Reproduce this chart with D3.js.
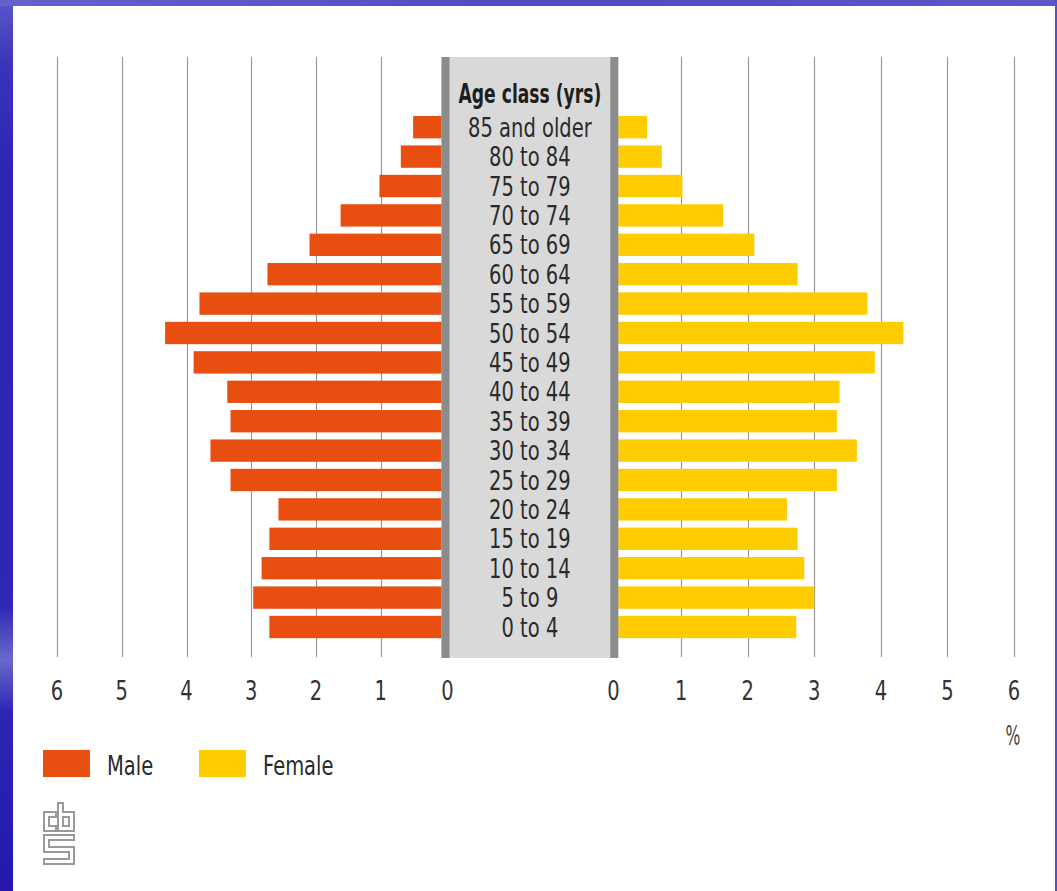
<!DOCTYPE html>
<html><head><meta charset="utf-8">
<script src="https://cdn.jsdelivr.net/npm/d3@7"></script>
<style>
html,body{margin:0;padding:0;}
body{width:1057px;height:891px;overflow:hidden;background:#2c25b3;}
svg{display:block;}
text{font-family:"DejaVu Sans",sans-serif;}
</style></head><body>
<svg id="c" width="1057" height="891"></svg>
<script>
const categories = ["85 and older","80 to 84","75 to 79","70 to 74","65 to 69","60 to 64","55 to 59","50 to 54","45 to 49","40 to 44","35 to 39","30 to 34","25 to 29","20 to 24","15 to 19","10 to 14","5 to 9","0 to 4"];
const male   = [0.50,0.69,1.02,1.62,2.10,2.75,3.80,4.33,3.89,3.37,3.32,3.63,3.32,2.58,2.72,2.84,2.97,2.72];
const female = [0.49,0.71,1.02,1.63,2.10,2.75,3.80,4.34,3.91,3.38,3.34,3.64,3.34,2.59,2.75,2.85,3.00,2.73];
const tickValues = [0,1,2,3,4,5,6];
const tickLabels = ["0","1","2","3","4","5","6"];
const seriesNames = ["Male","Female"];
const headerLabel = "Age class (yrs)";
const unitLabel = "%";

const svg = d3.select("#c");
const MALE = "#e84e0f", FEMALE = "#ffcc00";
const SX = 0.75;

// background gradients
const defs = svg.append("defs");
const gv = defs.append("linearGradient").attr("id","gv").attr("x1",0).attr("y1",0).attr("x2",0).attr("y2",1);
[[0,"#5a58c8"],[0.07,"#3a34bb"],[0.2,"#2c25b3"],[0.68,"#2d27b4"],[0.74,"#6a68cc"],[0.8,"#2c25b3"],[1,"#2418ad"]]
  .forEach(s=>gv.append("stop").attr("offset",s[0]).attr("stop-color",s[1]));
const gh = defs.append("linearGradient").attr("id","gh").attr("x1",0).attr("y1",0).attr("x2",1).attr("y2",0);
[[0,"#6462cc"],[0.5,"#4f4cc4"],[1,"#5a57c8"]].forEach(s=>gh.append("stop").attr("offset",s[0]).attr("stop-color",s[1]));
svg.append("rect").attr("x",0).attr("y",0).attr("width",1057).attr("height",891).attr("fill","url(#gv)");
svg.append("rect").attr("x",0).attr("y",0).attr("width",1057).attr("height",6).attr("fill","url(#gh)");
svg.append("rect").attr("x",1055).attr("y",0).attr("width",2).attr("height",891).attr("fill","#5552c6");

// white panel
svg.append("rect").attr("x",13).attr("y",6).attr("width",1042).attr("height",885).attr("fill","#fff");

const xL = d3.scaleLinear().domain([0,6]).range([445.5,57]);
const xR = d3.scaleLinear().domain([0,6]).range([614.5,1014]);
const y = d3.scaleBand().domain(categories).range([112.5,641.7]).paddingInner(0.24).paddingOuter(0.12);
const gridTop = 57, gridBot = 657;

// gridlines
const gridVals = tickValues.filter(v=>v>0);
svg.append("g").selectAll("line").data(gridVals).join("line")
  .attr("x1",d=>Math.round(xL(d))+0.5).attr("x2",d=>Math.round(xL(d))+0.5)
  .attr("y1",gridTop).attr("y2",gridBot).attr("stroke","#9a9a9a").attr("stroke-width",1.2);
svg.append("g").selectAll("line").data(gridVals).join("line")
  .attr("x1",d=>Math.round(xR(d))+0.5).attr("x2",d=>Math.round(xR(d))+0.5)
  .attr("y1",gridTop).attr("y2",gridBot).attr("stroke","#9a9a9a").attr("stroke-width",1.2);

// bars
svg.append("g").selectAll("rect").data(categories).join("rect")
  .attr("x",(d,i)=>xL(male[i])).attr("width",(d,i)=>xL(0)-xL(male[i]))
  .attr("y",d=>y(d)).attr("height",y.bandwidth()).attr("fill",MALE);
svg.append("g").selectAll("rect").data(categories).join("rect")
  .attr("x",xR(0)).attr("width",(d,i)=>xR(female[i])-xR(0))
  .attr("y",d=>y(d)).attr("height",y.bandwidth()).attr("fill",FEMALE);

// central grey box
const boxL = 441.5, boxR = 618.3;
svg.append("rect").attr("x",boxL).attr("y",gridTop).attr("width",boxR-boxL).attr("height",gridBot-gridTop+1).attr("fill","#d9d9d9");
svg.append("rect").attr("x",boxL).attr("y",gridTop).attr("width",8).attr("height",gridBot-gridTop+1).attr("fill","#8c8c8c");
svg.append("rect").attr("x",boxR-8).attr("y",gridTop).attr("width",8).attr("height",gridBot-gridTop+1).attr("fill","#8c8c8c");

const cx = (boxL+boxR)/2;
svg.append("text").attr("transform",`translate(${cx},103) scale(0.66,1)`)
  .attr("text-anchor","middle").attr("font-size",26).attr("font-weight","bold").attr("fill","#1e1e1e").text(headerLabel);
svg.append("g").selectAll("text").data(categories).join("text")
  .attr("transform",d=>`translate(${cx},${y(d)+y.bandwidth()/2+9.5}) scale(${SX},1)`)
  .attr("text-anchor","middle").attr("font-size",26).attr("fill","#2a2a2a").text(d=>d);

// axes tick labels
function axisLabels(scale, dx){
  const g = svg.append("g");
  g.selectAll("text").data(tickValues).join("text")
    .attr("transform",(d,i)=>`translate(${scale(d)+(i===0?dx:0)},700) scale(${SX},1)`)
    .attr("text-anchor","middle").attr("font-size",26).attr("fill","#333").text((d,i)=>tickLabels[i]);
}
axisLabels(xL, 2);
axisLabels(xR, -1);
svg.append("text").attr("transform",`translate(${xR(6)-1},745) scale(0.58,1)`)
  .attr("text-anchor","middle").attr("font-size",27).attr("fill","#444").text(unitLabel);

// legend
const leg = [{n:seriesNames[0],c:MALE,x:43},{n:seriesNames[1],c:FEMALE,x:199}];
const lg = svg.append("g").selectAll("g").data(leg).join("g");
lg.append("rect").attr("x",d=>d.x).attr("y",750).attr("width",47).attr("height",27).attr("fill",d=>d.c);
lg.append("text").attr("transform",d=>`translate(${d.x+64},775) scale(${SX},1)`)
  .attr("font-size",26).attr("fill","#2a2a2a").text(d=>d.n);

// CBS logo (outline glyph)
const logo = svg.append("g").attr("fill","none").attr("stroke","#9a9a9a").attr("stroke-width",2);
logo.append("path").attr("d","M44,812 H56 V817 H49 V826 H56 V831 H44 Z");
logo.append("path").attr("d","M58,803 H63 V812 H74 V831 H58 Z M63,817 H69 V826 H63 Z");
logo.append("path").attr("d","M44,835 H74 V840 H49 V847 H74 V864 H44 V859 H69 V852 H44 Z");
</script>
</body></html>
